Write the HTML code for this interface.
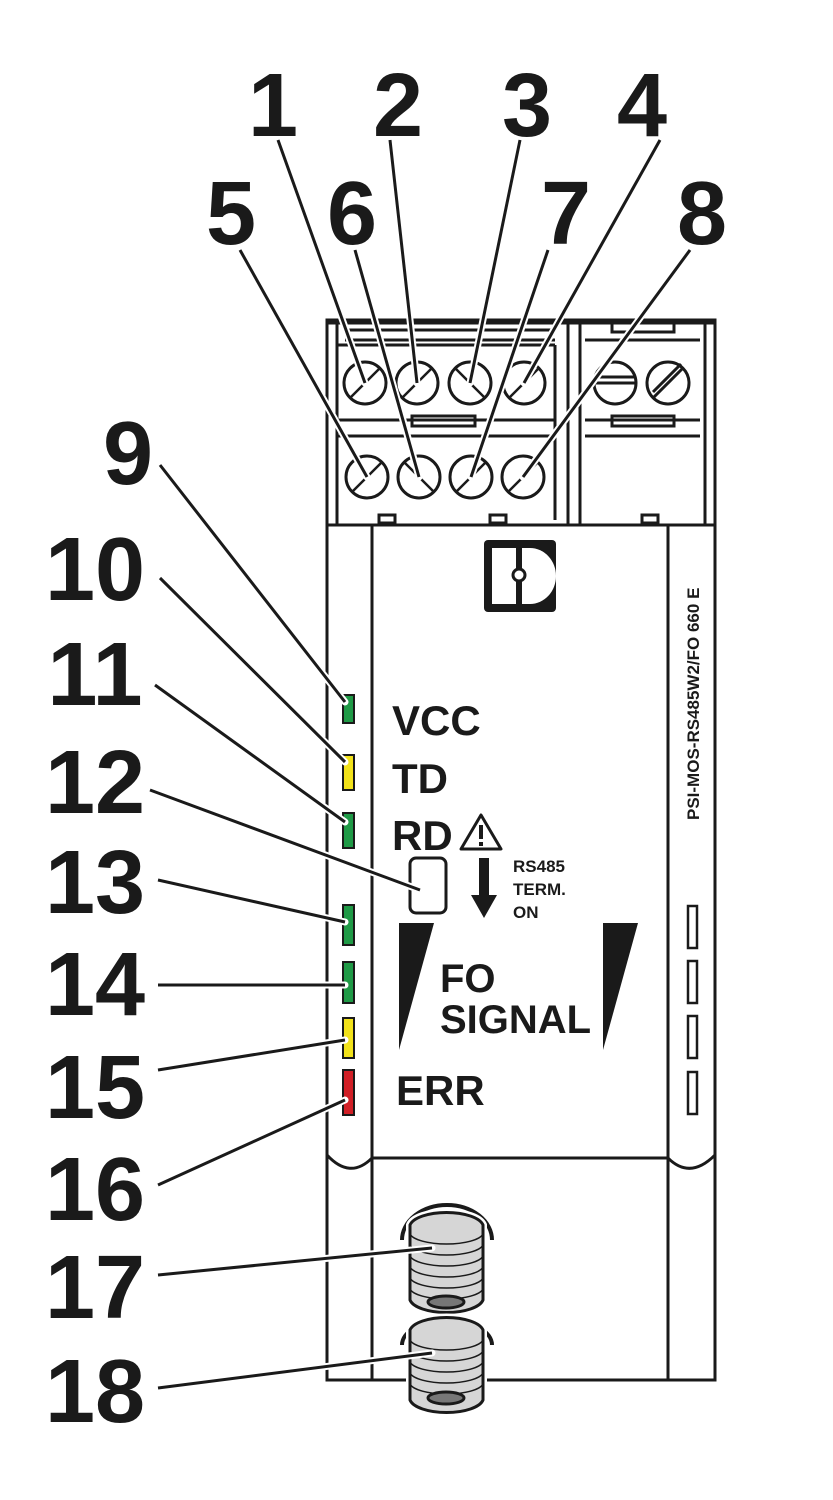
<!DOCTYPE html>
<html><head><meta charset="utf-8"><style>
html,body{margin:0;padding:0;background:#fff;}
svg{display:block;}
text{font-family:"Liberation Sans",sans-serif;font-weight:bold;fill:#1a1a1a;}
</style></head><body>
<svg width="833" height="1500" viewBox="0 0 833 1500" xmlns="http://www.w3.org/2000/svg">
<g fill="none" stroke="#1a1a1a" stroke-width="3">
<rect x="327" y="320" width="388" height="205" fill="#fff"/>
<line x1="327" y1="322" x2="715" y2="322" stroke-width="5"/>
<line x1="337" y1="322" x2="337" y2="525"/>
<line x1="568" y1="320" x2="568" y2="525"/>
<line x1="580" y1="322" x2="580" y2="525"/>
<line x1="705" y1="322" x2="705" y2="525"/>
<line x1="345" y1="330" x2="555" y2="330"/>
<line x1="345" y1="340" x2="555" y2="340"/>
<line x1="337" y1="345" x2="555" y2="345"/>
<line x1="555" y1="345" x2="555" y2="520"/>
<line x1="337" y1="420" x2="555" y2="420"/>
<rect x="412" y="416" width="63" height="10"/>
<line x1="337" y1="436" x2="555" y2="436"/>
<line x1="585" y1="340" x2="700" y2="340"/>
<rect x="612" y="322" width="62" height="10"/>
<line x1="585" y1="420" x2="700" y2="420"/>
<rect x="612" y="416" width="62" height="10"/>
<line x1="585" y1="436" x2="700" y2="436"/>
<rect x="379" y="515" width="16" height="8"/>
<rect x="490" y="515" width="16" height="8"/>
<rect x="642" y="515" width="16" height="8"/>
<circle cx="365" cy="383" r="21"/><circle cx="417" cy="383" r="21"/><circle cx="470" cy="383" r="21"/><circle cx="524" cy="383" r="21"/>
<circle cx="367" cy="477" r="21"/><circle cx="419" cy="477" r="21"/><circle cx="471" cy="477" r="21"/><circle cx="523" cy="477" r="21"/>
<circle cx="615" cy="383" r="21"/><circle cx="668" cy="383" r="21"/>
<line x1="594" y1="383" x2="636" y2="383"/><line x1="594" y1="377" x2="636" y2="377"/>
<line x1="653" y1="398" x2="683" y2="368"/><line x1="653" y1="392" x2="681" y2="364"/>
<g stroke-width="2.5">
<line x1="350" y1="398" x2="380" y2="368"/><line x1="402" y1="398" x2="432" y2="368"/><line x1="455" y1="368" x2="485" y2="398"/><line x1="509" y1="398" x2="539" y2="368"/>
<line x1="352" y1="492" x2="382" y2="462"/><line x1="404" y1="462" x2="434" y2="492"/><line x1="456" y1="492" x2="486" y2="462"/><line x1="508" y1="492" x2="538" y2="462"/>
</g>
<rect x="327" y="525" width="388" height="855" fill="#fff"/>
<line x1="372" y1="525" x2="372" y2="1380"/>
<line x1="668" y1="525" x2="668" y2="1380"/>
<line x1="372" y1="1158" x2="668" y2="1158"/>
<path d="M327 1155 Q350 1180 372 1158"/>
<path d="M668 1158 Q690 1180 715 1155"/>
<rect x="410" y="858" width="36" height="55" rx="6"/>
<polygon points="481,815 501,849 461,849" stroke-linejoin="round"/>
</g>
<rect x="479" y="825" width="4" height="14" fill="#1a1a1a"/>
<rect x="479" y="842" width="4" height="4" fill="#1a1a1a"/>
<rect x="479" y="858" width="10" height="40" fill="#1a1a1a"/>
<polygon points="471,895 497,895 484,918" fill="#1a1a1a"/>
<rect x="484" y="540" width="72" height="72" rx="4" fill="#1a1a1a"/>
<rect x="492" y="548" width="24" height="56" fill="#fff"/>
<path d="M522 548 h8 a26 28 0 0 1 0 56 h-8 z" fill="#fff"/>
<circle cx="519" cy="575" r="6" fill="#fff" stroke="#1a1a1a" stroke-width="3"/>
<polygon points="399,923 434,923 399,1050" fill="#1a1a1a"/>
<polygon points="603,923 638,923 603,1050" fill="#1a1a1a"/>
<g fill="none" stroke="#1a1a1a" stroke-width="2.5">
<rect x="688" y="906" width="9" height="42"/><rect x="688" y="961" width="9" height="42"/><rect x="688" y="1016" width="9" height="42"/><rect x="688" y="1072" width="9" height="42"/>
</g>
<g stroke="#1a1a1a" stroke-width="2">
<rect x="343" y="695" width="11" height="28" fill="#1f9a46"/>
<rect x="343" y="755" width="11" height="35" fill="#f2e21a"/>
<rect x="343" y="813" width="11" height="35" fill="#1f9a46"/>
<rect x="343" y="905" width="11" height="40" fill="#1f9a46"/>
<rect x="343" y="962" width="11" height="41" fill="#1f9a46"/>
<rect x="343" y="1018" width="11" height="40" fill="#f2e21a"/>
<rect x="343" y="1070" width="11" height="45" fill="#d11f26"/>
</g>
<text x="392" y="735" font-size="42">VCC</text>
<text x="392" y="793" font-size="42">TD</text>
<text x="392" y="850" font-size="42">RD</text>
<text x="513" y="872" font-size="17">RS485</text>
<text x="513" y="895" font-size="17">TERM.</text>
<text x="513" y="918" font-size="17">ON</text>
<text x="440" y="992" font-size="40">FO</text>
<text x="440" y="1033" font-size="40">SIGNAL</text>
<text x="396" y="1105" font-size="42">ERR</text>
<text x="0" y="0" font-size="17" transform="translate(699,820) rotate(-90)">PSI-MOS-RS485W2/FO 660 E</text>
<g stroke="#1a1a1a" stroke-width="3">
<path d="M402 1240 a45 35 0 0 1 90 0" fill="none" stroke-width="4"/>
<path d="M402 1345 a45 25 0 0 1 90 0" fill="none" stroke-width="4"/>
<path d="M410 1225 v75 a37 15 0 0 0 73 0 v-75 a37 15 0 0 0 -73 0z" fill="#d6d6d6" stroke="#fff" stroke-width="8"/>
<path d="M410 1225 v75 a37 15 0 0 0 73 0 v-75 a37 15 0 0 0 -73 0z" fill="#d6d6d6"/>
<path d="M410 1330 v70 a37 15 0 0 0 73 0 v-70 a37 15 0 0 0 -73 0z" fill="#d6d6d6" stroke="#fff" stroke-width="8"/>
<path d="M410 1330 v70 a37 15 0 0 0 73 0 v-70 a37 15 0 0 0 -73 0z" fill="#d6d6d6"/>
<g fill="none" stroke-width="1.5">
<path d="M410 1234 a37 12 0 0 0 73 0"/><path d="M410 1245 a37 12 0 0 0 73 0"/><path d="M410 1256 a37 12 0 0 0 73 0"/><path d="M410 1267 a37 12 0 0 0 73 0"/><path d="M410 1278 a37 12 0 0 0 73 0"/><path d="M410 1289 a37 12 0 0 0 73 0"/>
<path d="M410 1340 a37 12 0 0 0 73 0"/><path d="M410 1351 a37 12 0 0 0 73 0"/><path d="M410 1362 a37 12 0 0 0 73 0"/><path d="M410 1373 a37 12 0 0 0 73 0"/><path d="M410 1384 a37 12 0 0 0 73 0"/>
</g>
<ellipse cx="446" cy="1302" rx="18" ry="6" fill="#777"/>
<ellipse cx="446" cy="1398" rx="18" ry="6" fill="#777"/>
</g>
<g stroke="#fff" stroke-width="7" stroke-linecap="round">
<line x1="278" y1="140" x2="365" y2="383"/><line x1="390" y1="140" x2="417" y2="383"/><line x1="520" y1="140" x2="470" y2="383"/><line x1="660" y1="140" x2="524" y2="383"/>
<line x1="240" y1="250" x2="367" y2="477"/><line x1="355" y1="250" x2="419" y2="477"/><line x1="548" y1="250" x2="471" y2="477"/><line x1="690" y1="250" x2="523" y2="477"/>
<line x1="160" y1="465" x2="345" y2="702"/><line x1="160" y1="578" x2="345" y2="762"/><line x1="155" y1="685" x2="345" y2="822"/><line x1="150" y1="790" x2="420" y2="890"/>
<line x1="158" y1="880" x2="345" y2="922"/><line x1="158" y1="985" x2="345" y2="985"/><line x1="158" y1="1070" x2="345" y2="1040"/><line x1="158" y1="1185" x2="345" y2="1100"/>
<line x1="158" y1="1275" x2="432" y2="1248"/><line x1="158" y1="1388" x2="432" y2="1353"/>
</g>
<g stroke="#1a1a1a" stroke-width="3">
<line x1="278" y1="140" x2="365" y2="383"/><line x1="390" y1="140" x2="417" y2="383"/><line x1="520" y1="140" x2="470" y2="383"/><line x1="660" y1="140" x2="524" y2="383"/>
<line x1="240" y1="250" x2="367" y2="477"/><line x1="355" y1="250" x2="419" y2="477"/><line x1="548" y1="250" x2="471" y2="477"/><line x1="690" y1="250" x2="523" y2="477"/>
<line x1="160" y1="465" x2="345" y2="702"/><line x1="160" y1="578" x2="345" y2="762"/><line x1="155" y1="685" x2="345" y2="822"/><line x1="150" y1="790" x2="420" y2="890"/>
<line x1="158" y1="880" x2="345" y2="922"/><line x1="158" y1="985" x2="345" y2="985"/><line x1="158" y1="1070" x2="345" y2="1040"/><line x1="158" y1="1185" x2="345" y2="1100"/>
<line x1="158" y1="1275" x2="432" y2="1248"/><line x1="158" y1="1388" x2="432" y2="1353"/>
</g>
<g font-size="90" text-anchor="middle">
<text x="273" y="136">1</text><text x="398" y="136">2</text><text x="527" y="136">3</text><text x="642" y="136">4</text>
<text x="231" y="244">5</text><text x="352" y="244">6</text><text x="566" y="244">7</text><text x="702" y="244">8</text>
<text x="128" y="484">9</text>
<text x="95" y="600">10</text><text x="95" y="705">11</text><text x="95" y="813">12</text><text x="95" y="913">13</text>
<text x="95" y="1015">14</text><text x="95" y="1118">15</text><text x="95" y="1220">16</text><text x="95" y="1318">17</text><text x="95" y="1422">18</text>
</g>
</svg>
</body></html>
